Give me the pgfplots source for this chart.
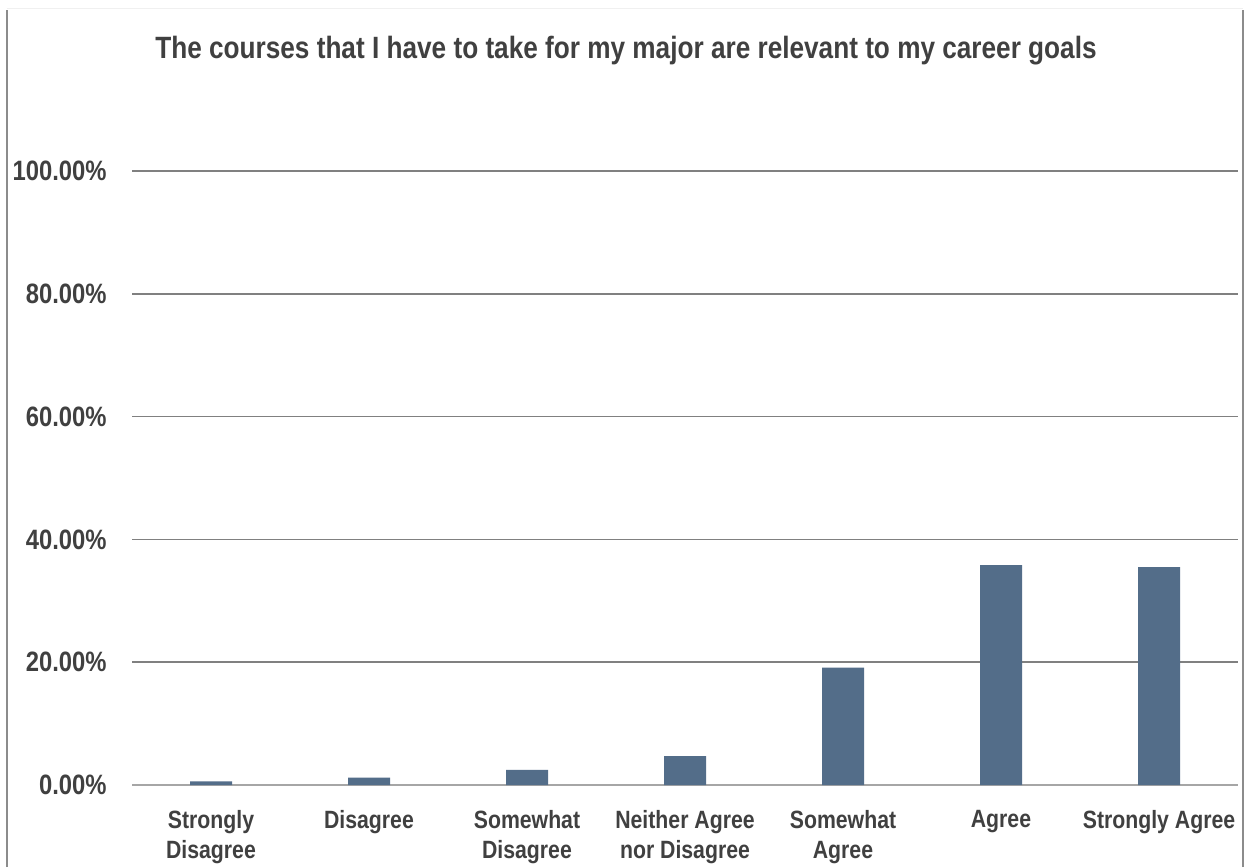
\documentclass[border=0pt]{standalone}
\usepackage{fontspec}
\setmainfont[FakeStretch=0.85]{Liberation Sans}
\usepackage{pgfplots}
\pgfplotsset{compat=1.18}
\definecolor{barblue}{HTML}{536D89}
\definecolor{txtgrey}{HTML}{404040}
\definecolor{gridgrey}{HTML}{808080}
\definecolor{basegrey}{HTML}{A6A6A6}
\definecolor{framegrey}{HTML}{8C8C8C}

\begin{document}
\begin{tikzpicture}
% page frame: 1 px of the reference = 0.5pt
\useasboundingbox (-66pt,-41pt) rectangle (556.5pt,392.5pt);
\fill[white] (-66pt,-41pt) rectangle (556.5pt,392.5pt);
\draw[framegrey, line width=1pt] (-62.5pt,-41pt) -- (-62.5pt,387.5pt);
\draw[framegrey, line width=1pt] (555.5pt,-41pt) -- (555.5pt,387.5pt);
\draw[gray!12, line width=0.5pt] (-62.5pt,388pt) -- (555.5pt,388pt);

\begin{axis}[
  ybar,
  scale only axis,
  width=553pt, height=307pt,
  xmin=-0.5, xmax=6.5,
  ymin=0, ymax=100,
  bar width=21pt,
  bar shift=0pt,
  axis x line*=bottom,
  axis y line*=left,
  x axis line style={draw=basegrey, line width=0.9pt},
  y axis line style={draw=none},
  major tick length=0pt,
  xtick={0,1,2,3,4,5,6},
  xticklabels={{Strongly\\Disagree},Disagree,{Somewhat\\Disagree},{Neither Agree\\nor Disagree},{Somewhat\\Agree},Agree,Strongly Agree},
  xticklabel style={anchor=north, inner sep=0pt, yshift=-12.3pt, align=center,
    font=\fontsize{12.5}{15}\selectfont\bfseries, text=txtgrey},
  ytick={0,20,40,60,80,100},
  yticklabels={0.00\%,20.00\%,40.00\%,60.00\%,80.00\%,100.00\%},
  yticklabel style={anchor=east, inner sep=0pt, xshift=-12.5pt,
    font=\fontsize{14}{16}\selectfont\bfseries, text=txtgrey},
  ymajorgrids,
  major grid style={draw=gridgrey, line width=0.8pt},
  clip=false,
]
\addplot[fill=barblue, draw=none] coordinates {
  (0, 0.6)
  (1, 1.2)
  (2, 2.45)
  (3, 4.7)
  (4, 19.1)
  (5, 35.8)
  (6, 35.5)
};
\end{axis}

\node[anchor=base, text=txtgrey, font=\fontsize{15.4}{18}\selectfont\bfseries, inner sep=0pt]
  at (247pt,363.4pt) {The courses that I have to take for my major are relevant to my career goals};
\end{tikzpicture}
\end{document}
